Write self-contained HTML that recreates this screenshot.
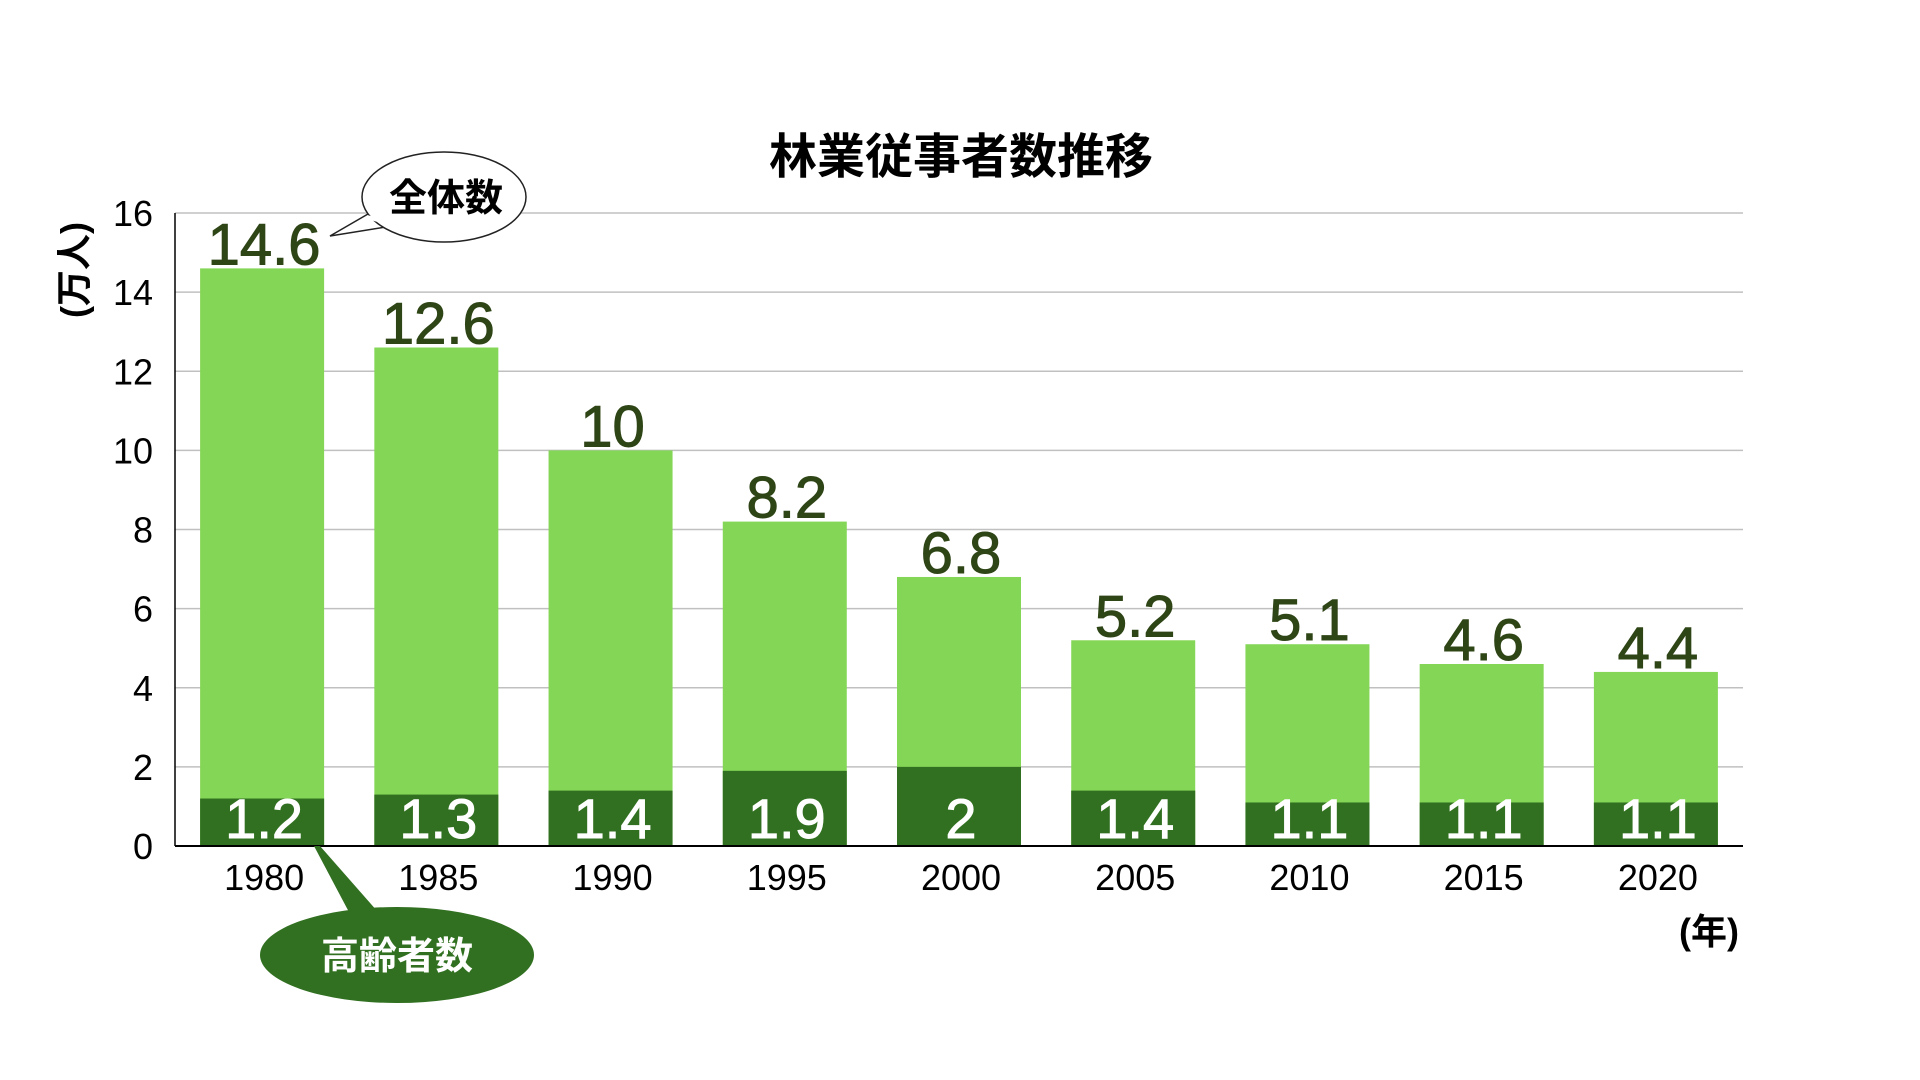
<!DOCTYPE html>
<html><head><meta charset="utf-8"><style>
html,body{margin:0;padding:0;background:#fff;width:1920px;height:1080px;overflow:hidden}
text{font-family:"Liberation Sans","Noto Sans CJK JP",sans-serif}
</style></head><body>
<svg id="chart" width="1920" height="1080" viewBox="0 0 1920 1080" xmlns="http://www.w3.org/2000/svg">
<text x="961" y="173" font-size="48" font-weight="bold" text-anchor="middle" fill="#000" font-family="'Noto Sans CJK JP',sans-serif">林業従事者数推移</text>
<g id="grid"></g>
<g id="bars"></g>
<g id="axes"></g>
<text transform="translate(74,270) rotate(-90)" font-size="36" font-weight="bold" text-anchor="middle" dominant-baseline="central" font-family="'Noto Sans CJK JP',sans-serif">(万人)</text>
<text x="1709" y="944" font-size="36" font-weight="bold" text-anchor="middle" font-family="'Noto Sans CJK JP',sans-serif">(年)</text>
<g>
<path d="M368,214 L330,236 L392,226 Z" fill="#fff" stroke="#222" stroke-width="1.5"/>
<ellipse cx="444" cy="197" rx="82" ry="45" fill="#fff" stroke="#222" stroke-width="1.5"/>
<path d="M367,217 L392,224" stroke="#fff" stroke-width="4"/>
<text x="446" y="211" font-size="38" font-weight="bold" text-anchor="middle" fill="#000" font-family="'Noto Sans CJK JP',sans-serif">全体数</text>
</g>
<g>
<path d="M314,846 L320,846 L378,912 L350,914 Z" fill="#317020"/>
<ellipse cx="397" cy="955" rx="137" ry="48" fill="#317020"/>
<text x="397" y="969" font-size="38" font-weight="bold" text-anchor="middle" fill="#fff" font-family="'Noto Sans CJK JP',sans-serif">高齢者数</text>
</g>
</svg>
<script>
const years = ['1980','1985','1990','1995','2000','2005','2010','2015','2020'];
const totalValues = [14.6, 12.6, 10, 8.2, 6.8, 5.2, 5.1, 4.6, 4.4];
const elderlyValues = [1.2, 1.3, 1.4, 1.9, 2, 1.4, 1.1, 1.1, 1.1];
const yTicks = [0, 2, 4, 6, 8, 10, 12, 14, 16];

const NS = 'http://www.w3.org/2000/svg';
const L = 175, R = 1743, T = 213, B = 846, yMax = 16;
const step = (R - L) / years.length;
const bw = 124;
const y = v => B - (v / yMax) * (B - T);
const xc = i => L + step * (i + 0.5);
function mk(tag, attrs, parent, txt) {
  const e = document.createElementNS(NS, tag);
  for (const k in attrs) e.setAttribute(k, attrs[k]);
  if (txt !== undefined) e.textContent = txt;
  parent.appendChild(e);
  return e;
}
const grid = document.getElementById('grid');
const bars = document.getElementById('bars');
const axes = document.getElementById('axes');
yTicks.forEach(t => {
  if (t > 0) {
    const g = mk('line', {x1: L, x2: R, y1: y(t), y2: y(t), stroke: '#c0c0c0', 'stroke-width': 1.5}, grid);
    
    
  }
  const lb = mk('text', {x: 153, y: y(t) + 13, 'font-size': 36, 'text-anchor': 'end', fill: '#000'}, axes, String(t));
  
  
});
years.forEach((yr, i) => {
  const cx = xc(i);
  const tb = mk('rect', {x: cx - bw / 2, y: y(totalValues[i]), width: bw, height: B - y(totalValues[i]), fill: '#84d656'}, bars);
  
  
  const eb = mk('rect', {x: cx - bw / 2, y: y(elderlyValues[i]), width: bw, height: B - y(elderlyValues[i]), fill: '#317020'}, bars);
  
  
  const tl = mk('text', {x: cx + 2, y: y(totalValues[i]) - 4, 'font-size': 58, 'text-anchor': 'middle', fill: '#2e4516', stroke: '#2e4516', 'stroke-width': 1}, bars, String(totalValues[i]));
  
  
  const el = mk('text', {x: cx + 2, y: B - 8, 'font-size': 56, 'text-anchor': 'middle', fill: '#fff', stroke: '#fff', 'stroke-width': 1}, bars, String(elderlyValues[i]));
  
  
  const xl = mk('text', {x: cx + 2, y: 890, 'font-size': 36, 'text-anchor': 'middle', fill: '#000'}, axes, yr);
  
  
});
const ya = mk('line', {x1: L, x2: L, y1: T, y2: B, stroke: '#000', 'stroke-width': 1.5}, axes);


const xa = mk('line', {x1: L, x2: R, y1: B, y2: B, stroke: '#000', 'stroke-width': 2}, axes);


</script>
</body></html>
